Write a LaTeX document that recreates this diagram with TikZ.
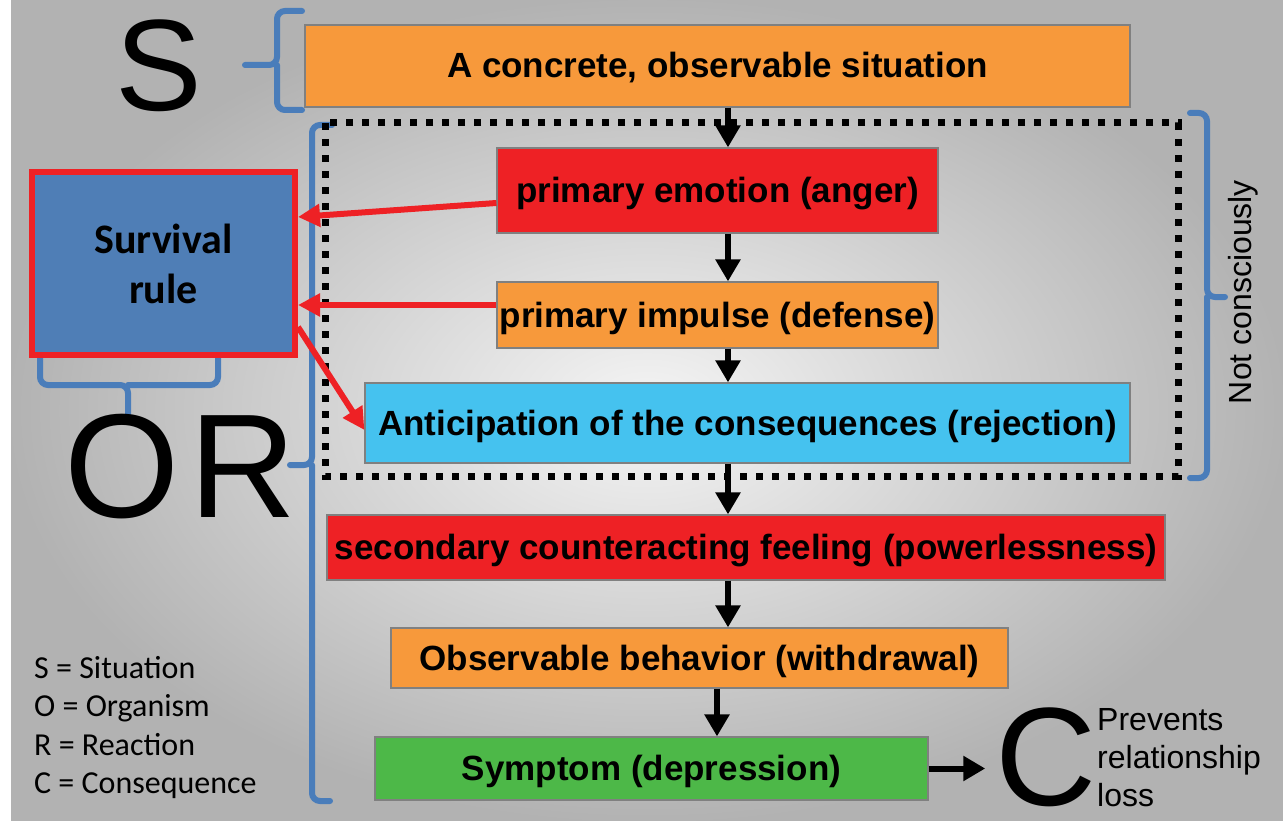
\documentclass[tikz,border=0pt]{standalone}
\usepackage{fontspec}
\setmainfont{Liberation Sans}
\newfontfamily\calibri{Carlito}
\usetikzlibrary{arrows.meta}
\definecolor{boxorange}{HTML}{F7993B}
\definecolor{boxred}{HTML}{EE2125}
\definecolor{boxcyan}{HTML}{45C2EF}
\definecolor{boxgreen}{HTML}{4DB848}
\definecolor{ruleblue}{HTML}{4F7EB6}
\definecolor{braceblue}{HTML}{4A7DBA}
\begin{document}
\begin{tikzpicture}[x=1pt, y=-1pt,
  stage/.style={draw=black!50, line width=1.2pt, inner sep=0pt, text height=24pt, text depth=0pt,
    font=\fontsize{35}{42}\selectfont\bfseries},
  flow/.style={line width=6pt, -{Triangle[width=24pt,length=22pt]}},
  ruleflow/.style={draw=boxred, line width=6pt, -{Triangle[width=22pt,length=22pt]}},
  brace/.style={draw=braceblue, line width=6pt, rounded corners=8pt, line cap=round},
  big/.style={inner sep=0pt}]
\useasboundingbox (0,0) rectangle (1283,821);
\fill[white] (0,0) rectangle (1283,821);
\shade[inner color=black!4, outer color=black!30] (11,0) rectangle (1283,821);
\draw[brace] (302,11) -- (277,11) -- (277,65) -- (245,65);
\draw[brace] (277,65) -- (277,110) -- (302,110);
\draw[brace] (332,125) -- (312,125) -- (312,465) -- (290,465);
\draw[brace] (312,465) -- (312,801) -- (330,801);
\draw[brace] (1190,113) -- (1207,113) -- (1207,297) -- (1225,297);
\draw[brace] (1207,297) -- (1207,478) -- (1190,478);
\draw[brace] (40,355) -- (40,385) -- (128,385) -- (128,415);
\draw[brace] (128,385) -- (218,385) -- (218,355);
\draw[line width=7pt, dash pattern=on 7pt off 9pt] (325,123) rectangle (1178,476);
\node[stage, fill=boxorange, minimum width=825pt, minimum height=82pt] (sit) at (717.5,66) {A concrete, observable situation};
\node[stage, fill=boxred, minimum width=441pt, minimum height=85pt] (emo) at (717.5,190.5) {primary emotion (anger)};
\node[stage, fill=boxorange, minimum width=441pt, minimum height=66pt] (imp) at (717.5,315) {primary impulse (defense)};
\node[stage, fill=boxcyan, minimum width=765pt, minimum height=80pt] (ant) at (747.5,423) {Anticipation of the consequences (rejection)};
\node[stage, fill=boxred, minimum width=838pt, minimum height=65pt] (sec) at (746,547.5) {secondary counteracting feeling (powerlessness)};
\node[stage, fill=boxorange, minimum width=617pt, minimum height=60pt] (obs) at (699.5,658) {Observable behavior (withdrawal)};
\node[stage, fill=boxgreen, minimum width=553pt, minimum height=63pt] (sym) at (651.5,768.5) {Symptom (depression)};
\node[draw=boxred, line width=6pt, fill=ruleblue, minimum width=263pt, minimum height=183pt, align=center,
  font=\calibri\fontsize{42}{50}\selectfont\bfseries] (rule) at (163.5,263.5) {Survival\\rule};
\node[big, font=\fontsize{130}{130}\selectfont] (S) at (159,66) {S};
\node[big, font=\fontsize{148}{148}\selectfont] (OR) at (180,467) {O\kern10pt R};
\node[big, font=\fontsize{140}{140}\selectfont] (C) at (1046,757) {C};
\node[anchor=north west, align=left, inner sep=0pt, font=\fontsize{32}{38}\selectfont] (gain) at (1097,708) {Prevents\\relationship\\loss};
\node[rotate=90, font=\fontsize{32}{36}\selectfont] (nc) at (1243,292) {Not consciously};
\node[anchor=north west, align=left, inner sep=0pt, font=\calibri\fontsize{32}{38.5}\selectfont] (legend) at (34,656) {S = Situation\\O = Organism\\R = Reaction\\C = Consequence};
\coordinate (ax) at (728,0);
\coordinate (bx) at (717,0);
\draw[flow] (sit.south -| ax) -- (emo.north -| ax);
\draw[flow] (emo.south -| ax) -- (imp.north -| ax);
\draw[flow] (imp.south -| ax) -- (ant.north -| ax);
\draw[flow] (ant.south -| ax) -- (sec.north -| ax);
\draw[flow] (sec.south -| ax) -- (obs.north -| ax);
\draw[flow] (obs.south -| bx) -- (sym.north -| bx);
\draw[flow, shorten >=10pt] (sym.east) -- (sym.east -| C.west);
\draw[ruleflow] (emo.west |- 0,203) -- (rule.east |- 0,217);
\draw[ruleflow] (imp.west |- 0,305) -- (rule.east |- 0,305);
\draw[ruleflow] (rule.east |- 0,327) -- (ant.west |- 0,430);
\end{tikzpicture}
\end{document}
